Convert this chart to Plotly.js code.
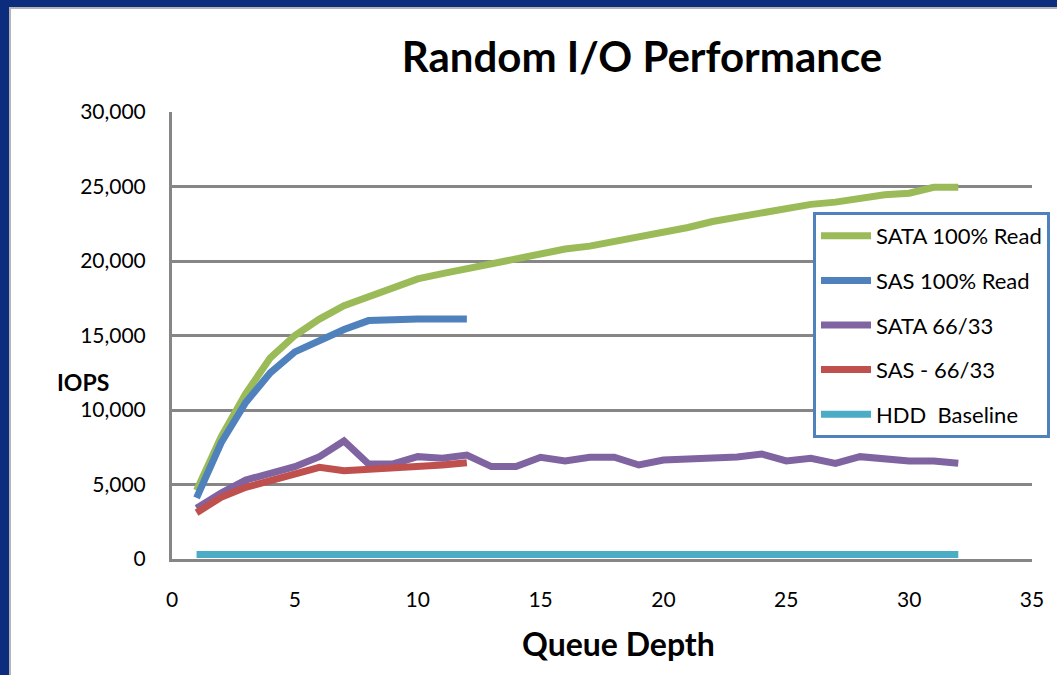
<!DOCTYPE html>
<html>
<head>
<meta charset="utf-8">
<script src="https://cdn.plot.ly/plotly-3.0.1.min.js"></script>
<style>
  html, body { margin: 0; padding: 0; background: #0c2d7e; width: 1057px; height: 675px; overflow: hidden; }
  #frame { position: absolute; left: 9px; top: 7px; width: 1048px; height: 668px; border-left: 2px solid #b4b4b4; border-top: 2px solid #b4b4b4; background: #fff; box-sizing: border-box; }
  #chart { width: 1046px; height: 666px; }
</style>
</head>
<body>
<div id="frame"><div id="chart"></div></div>
<script>
const queueDepthLong = [1,2,3,4,5,6,7,8,9,10,11,12,13,14,15,16,17,18,19,20,21,22,23,24,25,26,27,28,29,30,31,32];
const queueDepthShort = [1,2,3,4,5,6,7,8,9,10,11,12];

const sata100Read = [4600,8200,11100,13500,15000,16100,17000,17600,18250,18800,19150,19500,19850,20150,20550,20800,21000,21300,21650,22000,22250,22650,22950,23200,23450,23800,23950,24200,24450,24550,24950,24950];
const sas100Read = [4100,7800,10500,12500,13900,14700,15400,16000,16100,16100,16100,16100];
const sata6633 = [3400,4430,5300,5770,6200,6870,7920,6380,6380,6870,6760,6980,6200,6200,6830,6580,6830,6830,6310,6640,6730,6730,6850,7050,6580,6760,6420,6870,6710,6580,6580,6420];
const sas6633 = [3110,4140,4810,5230,5640,6150,5930,6020,6020,6150,6310,6460];
const hddBaseline = [300,300,300,300,300,300,300,300,300,300,300,300,300,300,300,300,300,300,300,300,300,300,300,300,300,300,300,300,300,300,300,300];

const seriesNames = ['SATA 100% Read','SAS 100% Read','SATA 66/33','SAS - 66/33','HDD  Baseline'];
const seriesColors = ['#9bbb59','#4f81bd','#8064a2','#c0504d','#4bacc6'];

const xTickVals = [0,5,10,15,20,25,30,35];
const yTickVals = [0,5000,10000,15000,20000,25000,30000];
const yTickText = ['0','5,000','10,000','15,000','20,000','25,000','30,000'];

const FONT = 'Lato, "Open Sans", sans-serif';

const xs = [queueDepthLong, queueDepthShort, queueDepthLong, queueDepthShort, queueDepthLong];
const ys = [sata100Read, sas100Read, sata6633, sas6633, hddBaseline];

const traces = ys.map((y, i) => ({
  type: 'scatter', mode: 'lines', x: xs[i], y: y, name: seriesNames[i],
  legendgroup: 'g' + i,
  line: { color: seriesColors[i], width: 7 },
  hoverinfo: 'skip'
}));

const layout = {
  width: 1046, height: 666,
  margin: { l: 161, r: 25, t: 103, b: 116, autoexpand: false },
  paper_bgcolor: '#ffffff', plot_bgcolor: '#ffffff',
  font: { family: FONT, color: '#000000', size: 21 },
  showlegend: true,
  title: {
    text: '<b>Random I/O Performance</b>',
    font: { family: FONT, size: 42, color: '#000000' },
    xref: 'paper', x: (642-172)/860, xanchor: 'center',
    yref: 'container', y: 1 - (57-9)/666, yanchor: 'middle'
  },
  xaxis: {
    range: [0, 35], tickvals: xTickVals, ticktext: xTickVals.map(String),
    showgrid: false, zeroline: false,
    showline: true, linecolor: '#868686', linewidth: 3,
    ticks: '', ticklabelstandoff: 20,
    tickfont: { family: FONT, size: 21, color: '#000' },
    fixedrange: true
  },
  yaxis: {
    range: [0, 30000], tickvals: yTickVals, ticktext: yTickText,
    showgrid: true, gridcolor: '#868686', gridwidth: 3,
    zeroline: false,
    showline: true, linecolor: '#868686', linewidth: 3,
    ticks: '', ticklabelstandoff: 19,
    tickfont: { family: FONT, size: 21, color: '#000' },
    fixedrange: true
  },
  legend: {
    x: (813-172)/860, y: (559-212)/447, xanchor: 'left', yanchor: 'top',
    bgcolor: '#ffffff', bordercolor: '#4f81bd', borderwidth: 3,
    font: { family: FONT, size: 22, color: '#000' },
    itemwidth: 50, tracegroupgap: 13,
    traceorder: 'grouped'
  },
  annotations: [
    { text: '<b>IOPS</b>', xref: 'paper', yref: 'paper', x: (83-172)/860, y: (559-382)/447,
      xanchor: 'center', yanchor: 'middle', showarrow: false, font: { family: FONT, size: 23, color: '#000' } },
    { text: '<b>Queue Depth</b>', xref: 'paper', yref: 'paper', x: (618-172)/860, y: (559-643)/447,
      xanchor: 'center', yanchor: 'middle', showarrow: false, font: { family: FONT, size: 32, color: '#000' } }
  ]
};

Plotly.newPlot('chart', traces, layout, { displayModeBar: false, staticPlot: true });
</script>
</body>
</html>
